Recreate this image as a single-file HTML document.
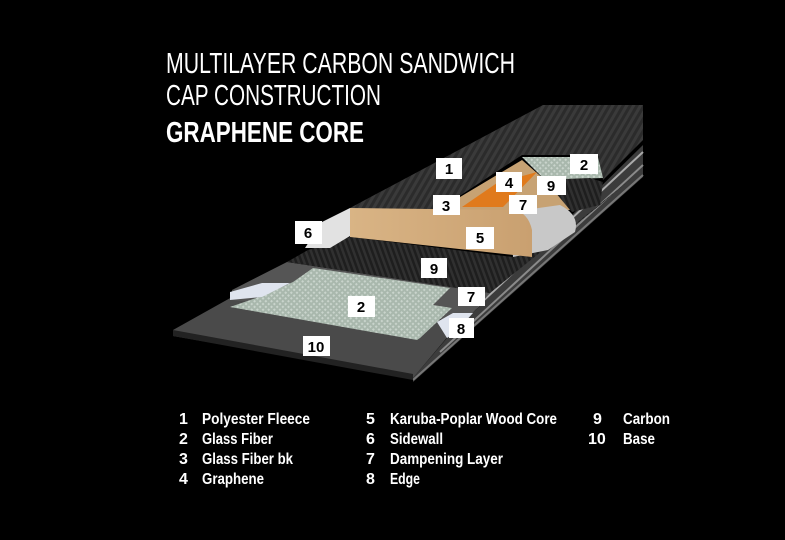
<!DOCTYPE html>
<html><head><meta charset="utf-8"><style>
html,body{margin:0;padding:0;background:#000;}
svg{display:block}
text{font-family:"Liberation Sans",sans-serif;fill:#fff}
.lb{font-size:15px;font-weight:bold;fill:#000;text-anchor:middle}
.lg{font-size:16px;font-weight:bold}
</style></head><body>
<svg width="785" height="540" viewBox="0 0 785 540" xmlns="http://www.w3.org/2000/svg">
<defs>
<pattern id="cf" width="6" height="6" patternUnits="userSpaceOnUse" patternTransform="rotate(30)">
<rect width="6" height="6" fill="#2b2b2b"/><rect width="3" height="6" fill="#3a3a3a"/>
</pattern>
<pattern id="cf2" width="5" height="5" patternUnits="userSpaceOnUse" patternTransform="rotate(-20)">
<rect width="5" height="5" fill="#1e1e1e"/><rect width="2.5" height="5" fill="#303030"/>
</pattern>
<pattern id="gf" width="4" height="4" patternUnits="userSpaceOnUse" patternTransform="rotate(45)">
<rect width="4" height="4" fill="#a9b8ad"/><rect width="2" height="2" fill="#c9d4cc"/>
</pattern>
<linearGradient id="wood" x1="0" y1="0" x2="1" y2="0">
<stop offset="0" stop-color="#d9b485"/><stop offset="1" stop-color="#c9a070"/>
</linearGradient>
</defs>
<rect width="785" height="540" fill="#000"/>

<text x="166" y="73" font-size="29" textLength="349" lengthAdjust="spacingAndGlyphs">MULTILAYER CARBON SANDWICH</text>
<text x="166" y="105" font-size="29" textLength="215" lengthAdjust="spacingAndGlyphs">CAP CONSTRUCTION</text>
<text x="166" y="142" font-size="29" font-weight="bold" textLength="198" lengthAdjust="spacingAndGlyphs">GRAPHENE CORE</text>

<!-- board side edge -->
<polygon points="447,338 643,145 643,177 413,382 413,378" fill="#3c3c3c"/>
<polyline points="452,330 643,152" stroke="#aaa" stroke-width="2" fill="none"/>
<polyline points="440,352 643,165" stroke="#8a8a8a" stroke-width="2" fill="none"/>
<polyline points="413,380 643,175" stroke="#777" stroke-width="2" fill="none"/>
<!-- base -->
<polygon points="173,330 232,297 460,322 413,378 173,336" fill="#4a4a4a"/>
<polygon points="173,330 413,374 413,380 173,336" fill="#222"/>
<!-- dampening layer lower (7) -->
<polygon points="232,290 287,262 490,293 470,316 437,320 232,300" fill="#555"/>
<!-- carbon lower (9) -->
<polygon points="287,262 308,250 350,237 513,257 545,250 600,205 632,178 490,293" fill="url(#cf2)"/>
<!-- glass fiber lower (2) -->
<polygon points="230,307 262,296 293,282 313,268 450,288 433,305 452,308 420,338 417,340" fill="url(#gf)"/>
<!-- edge (8) -->
<polygon points="230,292 262,283 290,283 262,297 230,300" fill="#dfe4ee"/>
<polygon points="437,322 453,313 473,313 455,333 447,338" fill="#dfe4ee"/>

<!-- top sheet (1) -->
<polygon points="350,208 543,105 643,105 643,140 603,180 598,155 522,155 455,199 433,212" fill="url(#cf)"/>
<polygon points="522,157 598,157 603,178 545,180" fill="url(#gf)"/>
<polygon points="540,180 590,178 603,182 600,205 572,212" fill="url(#cf2)"/>
<polygon points="433,212 455,200 522,160 545,180 570,210 513,212" fill="#c7a273"/>
<polygon points="462,207 497,183 537,172 503,207" fill="#e07a1c"/>
<path d="M510,212 L560,205 Q580,215 575,232 L548,250 L513,257 Z" fill="#c8c8c8"/>
<path d="M350,208 L513,210 Q528,212 532,230 L532,257 L350,237 Z" fill="url(#wood)"/>
<polygon points="305,248 330,248 350,236 350,208 322,222" fill="#e2e2e2"/>

<g>
<rect x="436" y="158" width="26" height="21" fill="#fff"/><text class="lb" x="449" y="174">1</text>
<rect x="570" y="154" width="28" height="20" fill="#fff"/><text class="lb" x="584" y="170">2</text>
<rect x="496" y="172" width="26" height="20" fill="#fff"/><text class="lb" x="509" y="188">4</text>
<rect x="537" y="176" width="29" height="19" fill="#fff"/><text class="lb" x="551" y="191">9</text>
<rect x="433" y="195" width="27" height="20" fill="#fff"/><text class="lb" x="446" y="211">3</text>
<rect x="509" y="195" width="28" height="19" fill="#fff"/><text class="lb" x="523" y="210">7</text>
<rect x="295" y="221" width="27" height="23" fill="#fff"/><text class="lb" x="308" y="238">6</text>
<rect x="466" y="227" width="28" height="22" fill="#fff"/><text class="lb" x="480" y="243">5</text>
<rect x="421" y="258" width="26" height="20" fill="#fff"/><text class="lb" x="434" y="274">9</text>
<rect x="348" y="296" width="27" height="21" fill="#fff"/><text class="lb" x="361" y="312">2</text>
<rect x="458" y="287" width="27" height="19" fill="#fff"/><text class="lb" x="471" y="302">7</text>
<rect x="449" y="318" width="25" height="20" fill="#fff"/><text class="lb" x="461" y="334">8</text>
<rect x="303" y="336" width="27" height="20" fill="#fff"/><text class="lb" x="316" y="352">10</text>
</g>

<g class="lg">
<text class="lg" x="179" y="424">1</text><text class="lg" x="202" y="424" textLength="108" lengthAdjust="spacingAndGlyphs">Polyester Fleece</text>
<text class="lg" x="179" y="444">2</text><text class="lg" x="202" y="444" textLength="71" lengthAdjust="spacingAndGlyphs">Glass Fiber</text>
<text class="lg" x="179" y="464">3</text><text class="lg" x="202" y="464" textLength="91" lengthAdjust="spacingAndGlyphs">Glass Fiber bk</text>
<text class="lg" x="179" y="484">4</text><text class="lg" x="202" y="484" textLength="62" lengthAdjust="spacingAndGlyphs">Graphene</text>
<text class="lg" x="366" y="424">5</text><text class="lg" x="390" y="424" textLength="167" lengthAdjust="spacingAndGlyphs">Karuba-Poplar Wood Core</text>
<text class="lg" x="366" y="444">6</text><text class="lg" x="390" y="444" textLength="53" lengthAdjust="spacingAndGlyphs">Sidewall</text>
<text class="lg" x="366" y="464">7</text><text class="lg" x="390" y="464" textLength="113" lengthAdjust="spacingAndGlyphs">Dampening Layer</text>
<text class="lg" x="366" y="484">8</text><text class="lg" x="390" y="484" textLength="30" lengthAdjust="spacingAndGlyphs">Edge</text>
<text class="lg" x="593" y="424">9</text><text class="lg" x="623" y="424" textLength="47" lengthAdjust="spacingAndGlyphs">Carbon</text>
<text class="lg" x="588" y="444">10</text><text class="lg" x="623" y="444" textLength="32" lengthAdjust="spacingAndGlyphs">Base</text>
</g>
</svg>
</body></html>
